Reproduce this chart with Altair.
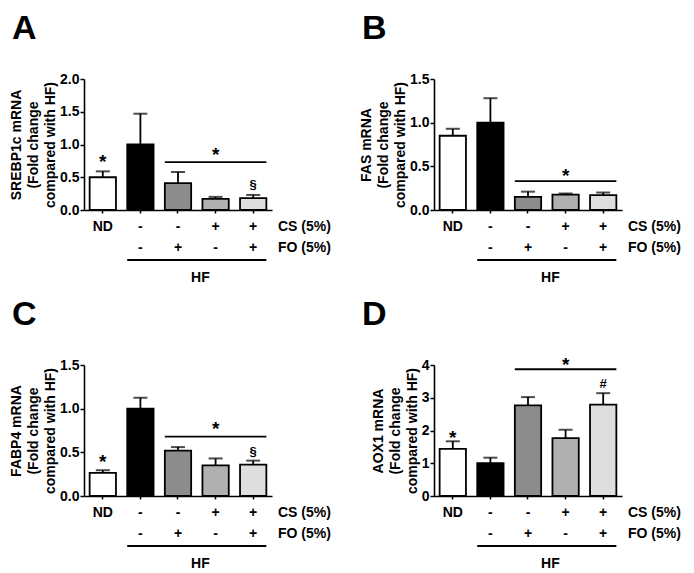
import altair as alt
import pandas as pd

FONT = "Liberation Sans"

groups = ["ND", "HF", "HF+FO", "HF+CS", "HF+CS+FO"]
fills = ["#ffffff", "#000000", "#8c8c8c", "#b0b0b0", "#dedede"]
cs_row = ["ND", "-", "-", "+", "+"]
fo_row = ["", "-", "+", "-", "+"]

# Panel A: SREBP1c
a_mean = [0.50, 1.00, 0.41, 0.17, 0.18]
a_upper = [0.59, 1.47, 0.58, 0.20, 0.23]
# Panel B: FAS
b_mean = [0.85, 1.00, 0.15, 0.175, 0.17]
b_upper = [0.93, 1.28, 0.21, 0.19, 0.20]
# Panel C: FABP4
c_mean = [0.265, 1.00, 0.52, 0.35, 0.36]
c_upper = [0.295, 1.125, 0.56, 0.43, 0.405]
# Panel D: AOX1
d_mean = [1.44, 1.00, 2.77, 1.77, 2.79]
d_upper = [1.67, 1.17, 3.02, 2.02, 3.14]

W, H = 188, 131
FS = 14


def panel(letter, gene, mean, upper, ymax, ticks, fmt, nd_star, bracket_y, bracket_star_y, sym, sym_y, sym_dy):
    df = pd.DataFrame({"group": groups, "mean": mean, "upper": upper,
                       "cs": cs_row, "fo": fo_row})
    xscale = alt.Scale(domain=groups, paddingInner=0.3, paddingOuter=0.15)
    yscale = alt.Scale(domain=[0, ymax], nice=False)
    yaxis = alt.Axis(title=[f"{gene} mRNA", "(Fold change", "compared with HF)"],
                     values=ticks, format=fmt)

    def X(field="group", bp=0.5):
        return alt.X(f"{field}:N", scale=xscale, sort=groups, bandPosition=bp,
                     axis=alt.Axis(labels=False, ticks=True, tickSize=3, title=None))

    def Y(field):
        return alt.Y(f"{field}:Q", scale=yscale, axis=yaxis)

    base = alt.Chart(df)
    bars = base.mark_bar(stroke="black", strokeWidth=1.8).encode(
        x=X(), y=Y("mean"),
        fill=alt.Fill("group:N", scale=alt.Scale(domain=groups, range=fills), legend=None),
    )
    err = base.mark_rule(color="black", strokeWidth=1.8).encode(x=X(), y=Y("mean"), y2="upper:Q")
    caps = base.mark_tick(color="black", size=14, thickness=2).encode(x=X(), y=Y("upper"))

    layers = [bars, err, caps]

    stars = []
    if nd_star is not None:
        stars.append({"group": "ND", "y": nd_star, "t": "*"})
    stars.append({"group": "HF+CS", "y": bracket_star_y, "t": "*"})
    star_layer = alt.Chart(pd.DataFrame(stars)).mark_text(
        font=FONT, fontSize=19, fontWeight="bold", baseline="alphabetic", dy=10, color="black"
    ).encode(x=X(), y=Y("y"), text="t:N")
    layers.append(star_layer)

    if sym is not None:
        sym_layer = alt.Chart(pd.DataFrame([{"group": "HF+CS+FO", "y": sym_y, "t": sym}])).mark_text(
            font=FONT, fontSize=13, fontWeight="bold", baseline="alphabetic", dy=sym_dy, color="black"
        ).encode(x=X(), y=Y("y"), text="t:N")
        layers.append(sym_layer)

    br = pd.DataFrame([{"start": "HF+FO", "end": "HF+CS+FO", "y": bracket_y}])
    bracket = alt.Chart(br).mark_rule(color="black", strokeWidth=1.8).encode(
        x=X("start", 0), x2=alt.X2("end:N", bandPosition=1), y=Y("y"))
    layers.append(bracket)

    row_cs = base.mark_text(font=FONT, fontSize=FS, fontWeight="bold", baseline="middle",
                            color="black").encode(x=X(), y=alt.value(H + 17), text="cs:N")
    row_fo = base.mark_text(font=FONT, fontSize=FS, fontWeight="bold", baseline="middle",
                            color="black").encode(x=X(), y=alt.value(H + 38), text="fo:N")
    lab = pd.DataFrame([{"t": "CS (5%)"}])
    lab2 = pd.DataFrame([{"t": "FO (5%)"}])
    lab_cs = alt.Chart(lab).mark_text(font=FONT, fontSize=FS, fontWeight="bold", align="left",
                                      baseline="middle", color="black").encode(
        x=alt.value(W + 6), y=alt.value(H + 17), text="t:N")
    lab_fo = alt.Chart(lab2).mark_text(font=FONT, fontSize=FS, fontWeight="bold", align="left",
                                       baseline="middle", color="black").encode(
        x=alt.value(W + 6), y=alt.value(H + 38), text="t:N")
    hf = pd.DataFrame([{"start": "HF", "end": "HF+CS+FO", "t": "HF", "mid": "HF+CS"}])
    hf_line = alt.Chart(hf).mark_rule(color="black", strokeWidth=1.8).encode(
        x=X("start", 0), x2=alt.X2("end:N", bandPosition=1), y=alt.value(H + 50))
    hf_text = alt.Chart(hf).mark_text(font=FONT, fontSize=FS, fontWeight="bold", baseline="middle",
                                      color="black", dx=-2).encode(
        x=X("mid", 0), y=alt.value(H + 68), text="t:N")
    letter_layer = alt.Chart(pd.DataFrame([{"t": letter}])).mark_text(
        font=FONT, fontSize=34, fontWeight="bold", align="left", baseline="top", color="black"
    ).encode(x=alt.value(-72), y=alt.value(-67), text="t:N")

    layers += [row_cs, row_fo, lab_cs, lab_fo, hf_line, hf_text, letter_layer]
    return alt.layer(*layers).properties(width=W, height=H)


pA = panel("A", "SREBP1c", a_mean, a_upper, 2.0, [0, 0.5, 1.0, 1.5, 2.0], ".1f",
           0.80, 0.73, 0.90, "§", 0.38, 3.5)
pB = panel("B", "FAS", b_mean, b_upper, 1.5, [0, 0.5, 1.0, 1.5], ".1f",
           None, 0.33, 0.43, None, None, 0)
pC = panel("C", "FABP4", c_mean, c_upper, 1.5, [0, 0.5, 1.0, 1.5], ".1f",
           0.44, 0.68, 0.81, "§", 0.50, 3.5)
pD = panel("D", "AOX1", d_mean, d_upper, 4, [0, 1, 2, 3, 4], "d",
           1.90, 3.87, 4.12, "#", 3.45, 4.5)

chart = alt.concat(pA, pB, pC, pD, columns=2, spacing={"row": 155, "column": 162},
                   bounds="flush").properties(
    padding={"left": 1, "top": 4, "right": 0, "bottom": 0}
).configure_axis(
    labelFont=FONT, labelFontWeight="bold", labelFontSize=FS, labelColor="black",
    titleFont=FONT, titleFontWeight="bold", titleFontSize=14, titleLineHeight=17,
    titleColor="black", domainColor="black", domainWidth=1.6, tickColor="black",
    tickWidth=1.5, tickSize=4, labelPadding=1, titlePadding=2, grid=False,
).configure_view(stroke=None)

chart.save("out.html", embed_options={"renderer": "svg", "actions": False})
